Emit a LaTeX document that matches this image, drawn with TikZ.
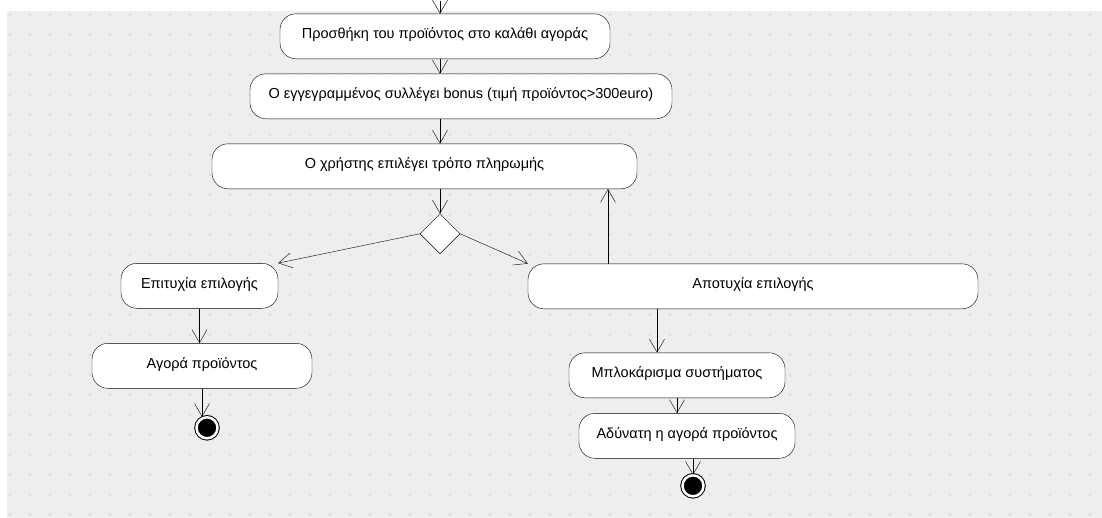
\documentclass[tikz,border=0pt]{standalone}
\usepackage{fontspec}
\setmainfont{Liberation Sans}
\usetikzlibrary{arrows.meta, positioning, shapes.geometric}
\definecolor{bgGray}{HTML}{EEEEEE}
\definecolor{dotGray}{HTML}{C6C6C6}

\begin{document}
\begin{tikzpicture}[x=1pt,y=-1pt,>={Straight Barb[length=13pt,width=15pt]},
    every node/.style={font=\fontsize{14.5}{16}\selectfont}]
  \tikzstyle{nodeA}=[rectangle,rounded corners=16pt,draw=black,fill=white,minimum height=45pt,inner sep=0pt,text height=10.5pt,text depth=6pt]
  \tikzstyle{nodeD}=[diamond,draw=black,fill=white,minimum size=40pt,inner sep=0pt]
  \tikzstyle{nodeF}=[circle,draw=black,fill=black,double=white,double distance=2.5pt,line width=1pt,minimum size=21pt,inner sep=0pt]

  % background and grid
  \fill[white] (0,0) rectangle (1102,517);
  \fill[bgGray] (7,10) rectangle (1102,517);
  \foreach \x in {10,30,...,1090}
    \foreach \y in {14,34,...,514}
      \fill[dotGray] (\x,\y) circle (0.9pt);

  \coordinate (q_0) at (440,0);
  \coordinate (back) at (608,0);
  \coordinate (left) at (202,0);
  \coordinate (down) at (657,0);

  \node[nodeA, minimum width=330pt] (q_1) at (445,35.5)  {Προσθήκη του προϊόντος στο καλάθι αγοράς};
  \node[nodeA, minimum width=422pt] (q_2) at (461,95.5)  {Ο εγγεγραμμένος συλλέγει bonus (τιμή προϊόντος>300euro)};
  \node[nodeA, minimum width=425pt] (q_3) at (424.5,165.5) {Ο χρήστης επιλέγει τρόπο πληρωμής};
  \node[nodeD]                      (q_d) at (440,233)   {};
  \node[nodeA, minimum width=157pt] (q_4) at (199.5,285) {Επιτυχία επιλογής};
  \node[nodeA, minimum width=220pt] (q_5) at (202,365)   {Αγορά προϊόντος};
  \node[nodeF]                      (q_f1) at (207,427)  {};
  \node[nodeA, minimum width=450pt] (q_6) at (753,285.5) {Αποτυχία επιλογής};
  \node[nodeA, minimum width=216pt] (q_7) at (677,374.5) {Μπλοκάρισμα συστήματος};
  \node[nodeA, minimum width=216pt] (q_8) at (687,435)   {Αδύνατη η αγορά προϊόντος};
  \node[nodeF]                      (q_f2) at (693,485)  {};

  \path[->] (q_0) edge (q_1.north -| q_0);
  \path[->] (q_1.south -| q_d) edge (q_2.north -| q_d);
  \path[->] (q_2.south -| q_d) edge (q_3.north -| q_d);
  \path[->] (q_3.south -| q_d) edge (q_d.north);
  \path[->] (q_d.west) edge (q_4.north east);
  \path[->] (q_d.east) edge (q_6.north west);
  \path[->] (q_6.north -| back) edge (q_3.south -| back);
  \path[->] (q_4.south) edge (q_5.north -| q_4.south);
  \path[->] (q_5.south -| left) edge (q_f1.north -| left);
  \path[->] (q_6.south -| down) edge (q_7.north -| down);
  \path[->] (q_7.south) edge (q_8.north -| q_7.south);
  \path[->] (q_8.south -| q_f2) edge (q_f2.north);
\end{tikzpicture}
\end{document}
